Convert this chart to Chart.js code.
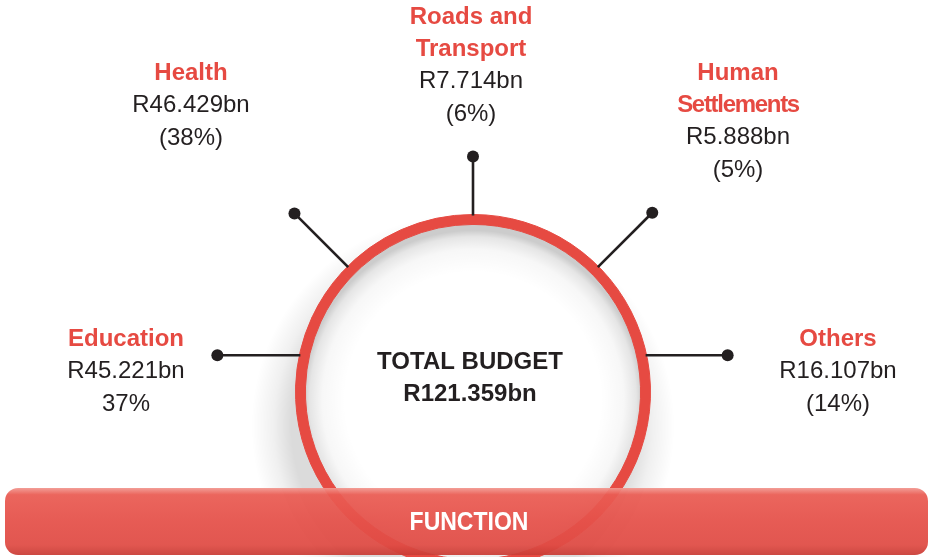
<!DOCTYPE html>
<html>
<head>
<meta charset="utf-8">
<script src="https://cdn.jsdelivr.net/npm/chart.js@4/dist/chart.umd.min.js"></script>
<style>
    html, body { margin: 0; padding: 0; background: #fff; overflow: hidden; }
    #wrap { position: relative; width: 931px; height: 600px; }
</style>
</head>
<body>
<div id="wrap"><canvas id="budgetChart"></canvas></div>
<script>
// data
const categories = ['Education', 'Health', 'Roads and Transport', 'Human Settlements', 'Others'];
const titleLines = [['Education'], ['Health'], ['Roads and', 'Transport'], ['Human', 'Settlements'], ['Others']];
const amounts = [45.221, 46.429, 7.714, 5.888, 16.107];
const shareLabels = ['37%', '(38%)', '(6%)', '(5%)', '(14%)'];
const totalBudget = 121.359;
const footerLabel = 'FUNCTION';

// layout of the callouts (angle on the ring in degrees, text anchor)
const calloutAngle = [168, 135, 90, 45, 12];
const calloutLen = [83, 75, 58, 76, 82];
const calloutHorizontal = [true, false, false, false, true];
const labelX = [126, 191, 471, 738, 838];
const labelY = [339, 73, 17, 73, 339];

const RED = '#e64a42';
const INK = '#231f20';
const LINE_H = 32;

const decorPlugin = {
    id: 'decor',
    beforeDatasetsDraw(chart) {
        const ctx = chart.ctx;
        const arc = chart.getDatasetMeta(0).data[0];
        const cx = arc.x, cy = arc.y;
        const ro = arc.outerRadius, ri = arc.innerRadius;
        ctx.save();
        // soft shadow outside the ring (mostly left / lower side)
        const sx = cx - 10, sy = cy + 34;
        let g = ctx.createRadialGradient(sx, sy, ro - 6, sx, sy, ro + 34);
        g.addColorStop(0, 'rgba(0,0,0,0.14)');
        g.addColorStop(0.45, 'rgba(0,0,0,0.06)');
        g.addColorStop(1, 'rgba(0,0,0,0)');
        ctx.fillStyle = g;
        ctx.beginPath();
        ctx.arc(sx, sy, ro + 34, 0, Math.PI * 2);
        ctx.fill();
        // white disc + inner shadow
        ctx.fillStyle = '#fff';
        ctx.beginPath();
        ctx.arc(cx, cy, ri + 1, 0, Math.PI * 2);
        ctx.fill();
        g = ctx.createRadialGradient(cx, cy + 8, ri - 40, cx, cy + 8, ri + 2);
        g.addColorStop(0, 'rgba(0,0,0,0)');
        g.addColorStop(0.55, 'rgba(0,0,0,0.03)');
        g.addColorStop(0.85, 'rgba(0,0,0,0.1)');
        g.addColorStop(1, 'rgba(0,0,0,0.2)');
        ctx.fillStyle = g;
        ctx.beginPath();
        ctx.arc(cx, cy, ri + 1, 0, Math.PI * 2);
        ctx.fill();
        ctx.restore();
    },
    afterDatasetsDraw(chart) {
        const ctx = chart.ctx;
        const arc = chart.getDatasetMeta(0).data[0];
        const cx = arc.x, cy = arc.y;
        const ro = arc.outerRadius;
        ctx.save();

        // callout lines and dots
        ctx.strokeStyle = INK;
        ctx.fillStyle = INK;
        ctx.lineWidth = 2.6;
        for (let i = 0; i < categories.length; i++) {
            const a = calloutAngle[i] * Math.PI / 180;
            const x0 = cx + Math.cos(a) * (ro - 1);
            const y0 = cy - Math.sin(a) * (ro - 1);
            let x1, y1;
            if (calloutHorizontal[i]) {
                x1 = x0 + Math.sign(Math.cos(a)) * calloutLen[i];
                y1 = y0;
            } else {
                x1 = cx + Math.cos(a) * (ro + calloutLen[i]);
                y1 = cy - Math.sin(a) * (ro + calloutLen[i]);
            }
            ctx.beginPath();
            ctx.moveTo(x0, y0);
            ctx.lineTo(x1, y1);
            ctx.stroke();
            ctx.beginPath();
            ctx.arc(x1, y1, 6, 0, Math.PI * 2);
            ctx.fill();
        }

        // callout text
        ctx.textAlign = 'center';
        ctx.textBaseline = 'middle';
        for (let i = 0; i < categories.length; i++) {
            let y = labelY[i];
            ctx.fillStyle = RED;
            ctx.font = 'bold 24px "Liberation Sans", Arial, sans-serif';
            titleLines[i].forEach(t => {
                ctx.letterSpacing = t === 'Settlements' ? '-1.3px' : '0px';
                ctx.fillText(t, labelX[i], y);
                y += LINE_H;
            });
            ctx.letterSpacing = '0px';
            ctx.fillStyle = INK;
            ctx.font = '24px "Liberation Sans", Arial, sans-serif';
            ctx.fillText('R' + amounts[i].toFixed(3) + 'bn', labelX[i], y);
            y += LINE_H + 1;
            ctx.fillText(shareLabels[i], labelX[i], y);
        }

        // centre text
        ctx.fillStyle = INK;
        ctx.font = 'bold 24px "Liberation Sans", Arial, sans-serif';
        ctx.fillText('TOTAL BUDGET', cx - 3, cy - 30);
        ctx.fillText('R' + totalBudget.toFixed(3) + 'bn', cx - 3, cy + 2);
        ctx.restore();
    },
    afterDraw(chart) {
        const ctx = chart.ctx;
        const x = 5, y = 488, w = 923, h = 67, r = 13;
        ctx.save();
        ctx.globalAlpha = 0.94;
        const g = ctx.createLinearGradient(0, y, 0, y + h);
        g.addColorStop(0, '#f29890');
        g.addColorStop(0.1, '#ea5c53');
        g.addColorStop(0.5, '#e5514a');
        g.addColorStop(0.85, '#e04c45');
        g.addColorStop(1, '#c93d36');
        ctx.fillStyle = g;
        ctx.beginPath();
        ctx.roundRect(x, y, w, h, r);
        ctx.fill();
        ctx.globalAlpha = 1;
        ctx.fillStyle = '#ffffff';
        ctx.font = 'bold 25px "Liberation Sans Narrow", "Liberation Sans", Arial, sans-serif';
        ctx.textAlign = 'center';
        ctx.textBaseline = 'middle';
        ctx.translate(469, 523);
        ctx.scale(0.92, 1);
        ctx.fillText(footerLabel, 0, 0);
        ctx.restore();
    }
};

const ctx = document.getElementById('budgetChart');
new Chart(ctx, {
    type: 'doughnut',
    data: {
        labels: categories,
        datasets: [{
            data: amounts,
            backgroundColor: RED,
            borderColor: RED,
            borderWidth: 1,
            hoverOffset: 0,
            offset: 0
        }]
    },
    options: {
        responsive: true,
        maintainAspectRatio: false,
        animation: false,
        cutout: '94.4%',
        layout: { padding: { left: 295, right: 280, top: 214, bottom: 30 } },
        plugins: {
            legend: { display: false },
            tooltip: { enabled: false }
        },
        events: []
    },
    plugins: [decorPlugin]
});
</script>
</body>
</html>
